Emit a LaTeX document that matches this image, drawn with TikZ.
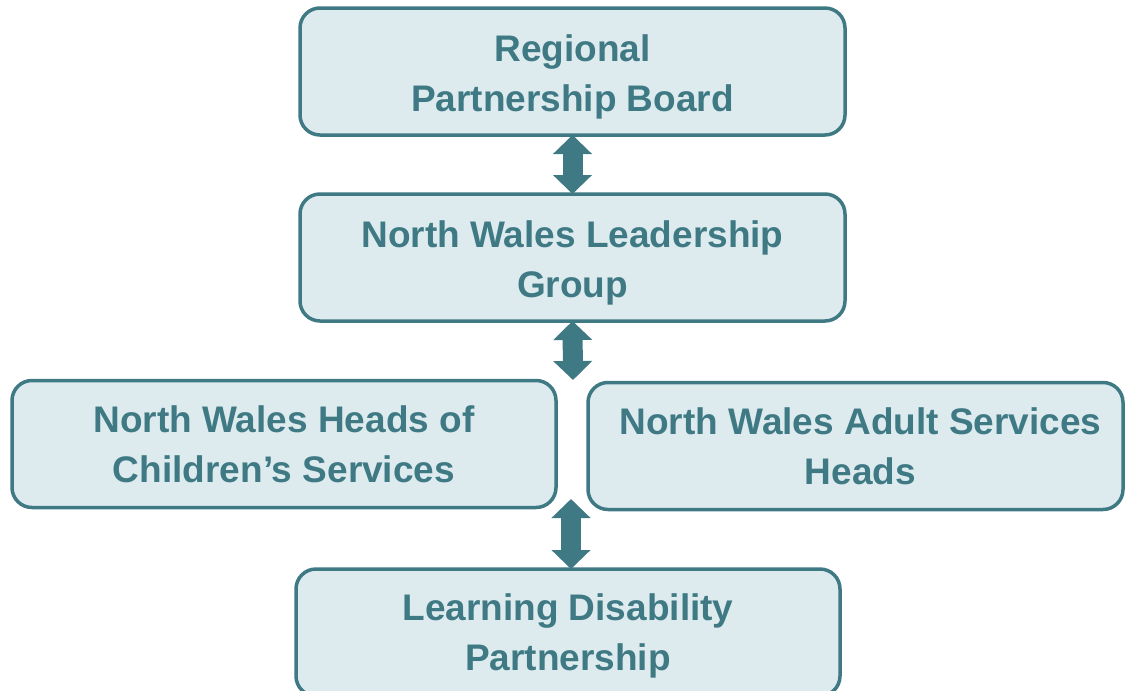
\documentclass[tikz,border=0pt]{standalone}
\usepackage{fontspec}
\setmainfont{Liberation Sans}
\usetikzlibrary{positioning, arrows.meta}

\definecolor{boxfill}{HTML}{DDEBEF}
\definecolor{teal}{HTML}{3F7A84}

\begin{document}
\begin{tikzpicture}[x=1pt,y=-1pt,on grid,
   box/.style={draw=teal, fill=boxfill, line width=3.5pt, rounded corners=20pt,
      minimum width=545pt, minimum height=127pt, outer sep=0pt, align=center,
      text=teal, font=\fontsize{37}{50}\selectfont\bfseries, text height=88pt},
   link/.style={draw=teal, line width=20pt,
      {Triangle[width=38pt,length=19pt]}-{Triangle[width=38pt,length=19pt]}}]

   \clip (0,0) rectangle (1125,691);

   \node[box] (rpb) at (572.5,71.5) {Regional\\Partnership Board};
   \node[box] (nwlg) [below=186pt of rpb] {North Wales Leadership\\Group};
   \node[box, minimum width=544pt, text height=78pt] (hcs) [below left=186.5pt and 288.5pt of nwlg]
      {North Wales Heads of\\Children’s Services};
   \node[box, minimum width=535pt, text height=78pt] (ash) [below right=188.5pt and 283pt of nwlg]
      {\hspace*{10pt}North Wales Adult Services\\\hspace*{10pt}Heads};
   \node[box, minimum width=544pt, text height=84pt] (ldp) [below left=375pt and 4.5pt of nwlg]
      {Learning Disability\\Partnership};

   \coordinate (split) at (573,380);
   \coordinate (join) at (571,499);

   \draw[link] (rpb.south) -- (nwlg.north);
   \draw[link] (nwlg.south) -- (split);
   \draw[link] (join) -- (join |- ldp.north);

\end{tikzpicture}
\end{document}
